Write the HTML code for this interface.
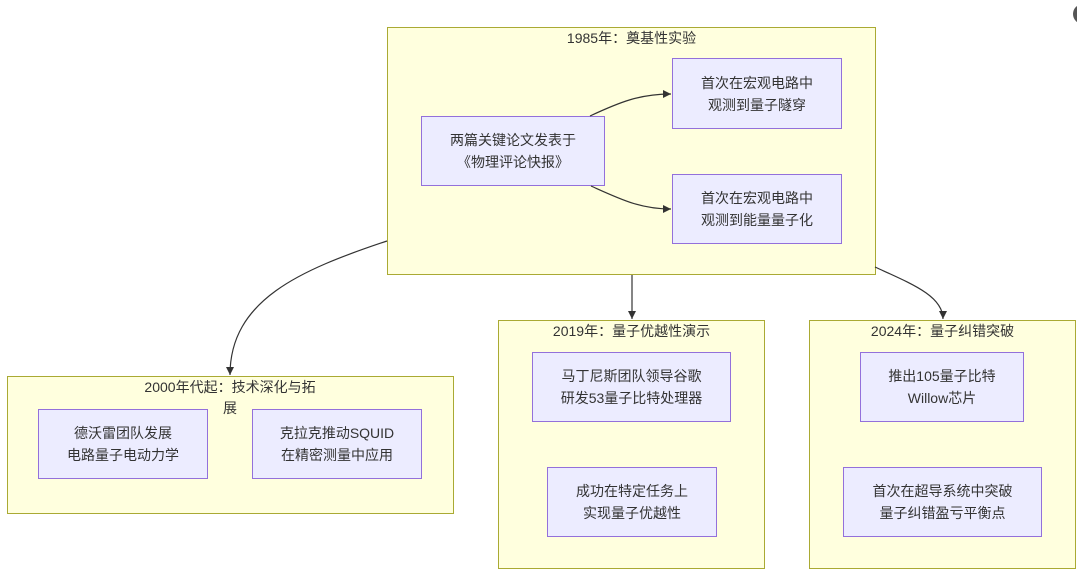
<!DOCTYPE html>
<html><head><meta charset="utf-8">
<style>
html,body{margin:0;padding:0;background:#fff;}
body{width:1077px;height:584px;position:relative;overflow:hidden;font-family:"Liberation Sans","Noto Sans CJK SC",sans-serif;color:#333;}
.cl{position:absolute;background:#ffffde;border:1px solid #aaaa33;box-sizing:border-box;}
.nd{position:absolute;background:#ececff;border:1px solid #9370db;box-sizing:border-box;display:flex;align-items:center;justify-content:center;text-align:center;font-size:14px;line-height:22px;}
.t{position:absolute;font-size:14px;line-height:21px;text-align:center;white-space:nowrap;}
svg{position:absolute;left:0;top:0;}
</style></head><body>
<div class="cl" style="left:387px;top:27px;width:489px;height:248px;"></div>
<div class="cl" style="left:7px;top:376px;width:447px;height:138px;"></div>
<div class="cl" style="left:498px;top:320px;width:267px;height:249px;"></div>
<div class="cl" style="left:809px;top:320px;width:267px;height:249px;"></div>

<div class="t" style="left:387px;width:489px;top:28px;">1985年：奠基性实验</div>
<div class="t" style="left:130px;width:200px;top:377px;">2000年代起：技术深化与拓<br>展</div>
<div class="t" style="left:498px;width:267px;top:321px;">2019年：量子优越性演示</div>
<div class="t" style="left:809px;width:267px;top:321px;">2024年：量子纠错突破</div>

<div class="nd" style="left:421px;top:116px;width:184px;height:70px;">两篇关键论文发表于<br>《物理评论快报》</div>
<div class="nd" style="left:672px;top:58px;width:170px;height:71px;">首次在宏观电路中<br>观测到量子隧穿</div>
<div class="nd" style="left:672px;top:174px;width:170px;height:70px;">首次在宏观电路中<br>观测到能量量子化</div>

<div class="nd" style="left:38px;top:409px;width:170px;height:70px;">德沃雷团队发展<br>电路量子电动力学</div>
<div class="nd" style="left:252px;top:409px;width:170px;height:70px;">克拉克推动SQUID<br>在精密测量中应用</div>

<div class="nd" style="left:532px;top:352px;width:199px;height:70px;">马丁尼斯团队领导谷歌<br>研发53量子比特处理器</div>
<div class="nd" style="left:547px;top:467px;width:170px;height:70px;">成功在特定任务上<br>实现量子优越性</div>

<div class="nd" style="left:860px;top:352px;width:164px;height:70px;">推出105量子比特<br>Willow芯片</div>
<div class="nd" style="left:843px;top:467px;width:199px;height:70px;">首次在超导系统中突破<br>量子纠错盈亏平衡点</div>

<svg width="1077" height="584" viewBox="0 0 1077 584">
<defs><marker id="a" viewBox="0 0 10 10" refX="10" refY="5" markerWidth="8" markerHeight="8" orient="auto" markerUnits="userSpaceOnUse"><path d="M0,0 L10,5 L0,10 z" fill="#333"/></marker></defs>
<g fill="none" stroke="#333" stroke-width="1.2">
<path d="M590,116 C620,102 640,94 671,94" marker-end="url(#a)"/>
<path d="M591,186 C620,199 640,209 671,209" marker-end="url(#a)"/>
<path d="M387,241 C300,270 230,300 230,375" marker-end="url(#a)"/>
<path d="M632,275 L632,319" marker-end="url(#a)"/>
<path d="M875,267 C912,284 943,296 943,319" marker-end="url(#a)"/>
</g>
<circle cx="1083" cy="14" r="10" fill="#555"/>
</svg>
</body></html>
